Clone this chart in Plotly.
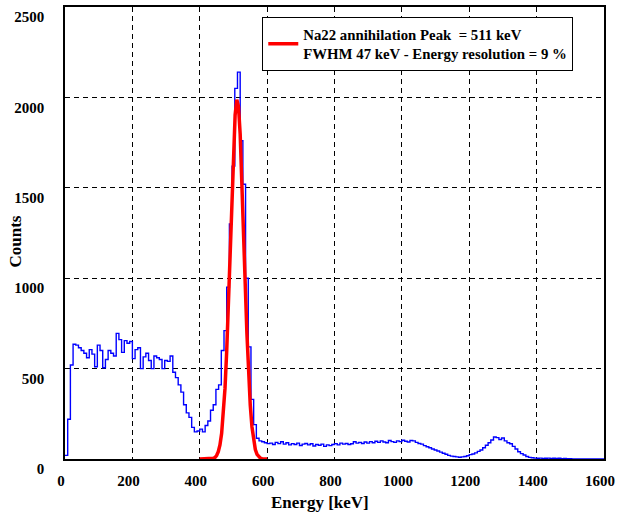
import numpy as np
import plotly.graph_objects as go

# ---------------- data ----------------
bin_width = 8  # keV
counts = [
    20, 220, 520, 635, 630, 615, 600, 585, 560, 605,
    580, 510, 630, 600, 505, 550, 600, 585, 570, 695,
    660, 590, 655, 640, 650, 555, 605, 615, 500, 565,
    585, 545, 500, 570, 560, 550, 500, 545, 540, 570,
    480, 450, 410, 370, 300, 255, 230, 175, 150, 155,
    165, 150, 185, 210, 270, 300, 385, 410, 600, 710,
    950, 1300, 1620, 2050, 2140, 1760, 1520, 1000, 620, 330,
    190, 115, 100, 95, 90, 85, 88, 80, 92, 85,
    95, 82, 90, 78, 85, 80, 88, 75, 82, 86,
    78, 84, 72, 80, 76, 82, 70, 78, 74, 80,
    85, 78, 88, 82, 86, 80, 84, 95, 88, 92,
    86, 94, 88, 96, 90, 98, 92, 100, 94, 90,
    102, 96, 92, 100, 96, 104, 98, 94, 102, 100,
    92, 86, 82, 74, 68, 62, 55, 50, 44, 38,
    32, 26, 20, 16, 14, 12, 10, 12, 14, 18,
    24, 28, 34, 42, 50, 62, 76, 90, 105, 122,
    118, 108, 116, 100, 90, 84, 70, 55, 40, 30,
    22, 14, 9, 7, 5, 4, 5, 3, 4, 5,
    3, 4, 3, 4, 2, 3, 2, 1, 0, 0,
    0, 0, 0, 0, 0, 0, 0, 0, 0, 0,
]

fit_start, fit_step = 400, 5  # keV
fit_counts = [
    0, 0, 0, 0, 0.1, 0.2, 0.6, 1.5, 3.5, 8,
    19, 40, 78, 142, 243, 392, 596, 851, 1140, 1440,
    1711, 1903, 1988, 1950, 1797, 1555, 1265, 967, 694, 468,
    297, 177, 100, 52, 26, 12, 5, 2, 0.8, 0.3, 0.1,
]

legend_label = "Na22 annihilation Peak  = 511 keV<br>FWHM 47 keV - Energy resolution = 9 %"
x_title = "Energy [keV]"
y_title = "Counts"
x_range = [0, 1600]
y_range = [0, 2500]

# ---------------- figure ----------------
edges = np.arange(len(counts) + 1) * bin_width
hist_y = list(counts) + [counts[-1]]
fit_x = fit_start + np.arange(len(fit_counts)) * fit_step

FONT = "Liberation Serif"

fig = go.Figure()
fig.add_trace(go.Scatter(
    x=edges, y=hist_y, mode="lines", line=dict(color="#0000ff", width=1.4, shape="hv"),
    showlegend=False, hoverinfo="skip",
))
fig.add_trace(go.Scatter(
    x=fit_x, y=fit_counts, mode="lines", line=dict(color="#ff0000", width=3.5),
    name=legend_label, showlegend=True,
))

axis_common = dict(
    showgrid=True, gridcolor="black", gridwidth=1, griddash="5px,4px",
    showline=True, mirror=True, linecolor="black", linewidth=1.5,
    ticks="", zeroline=False,
    tickfont=dict(family=FONT, size=15, color="black", weight="bold"),
)

fig.update_xaxes(range=x_range, tick0=0, dtick=200, ticklabelshift=-4,
                 ticklabelstandoff=7, **axis_common)
fig.update_yaxes(range=y_range, tick0=0, dtick=500, ticklabelshift=10,
                 ticklabelstandoff=16, **axis_common)

fig.update_layout(
    width=620, height=514,
    margin=dict(l=65, r=11, t=5, b=55),
    plot_bgcolor="white", paper_bgcolor="white",
    showlegend=True,
    legend=dict(
        x=0.366, y=0.978, xanchor="left", yanchor="top",
        bgcolor="white", bordercolor="black", borderwidth=1,
        font=dict(family=FONT, size=14.8, color="black", weight="bold"),
    ),
    annotations=[
        dict(text=x_title, xref="paper", yref="paper", x=0.474, y=-0.097,
             xanchor="center", yanchor="middle", showarrow=False,
             font=dict(family=FONT, size=17, color="black", weight="bold")),
        dict(text=y_title, xref="paper", yref="paper", x=-0.092, y=0.482,
             xanchor="center", yanchor="middle", showarrow=False, textangle=-90,
             font=dict(family=FONT, size=17, color="black", weight="bold")),
    ],
)

fig.write_html("out.html")
